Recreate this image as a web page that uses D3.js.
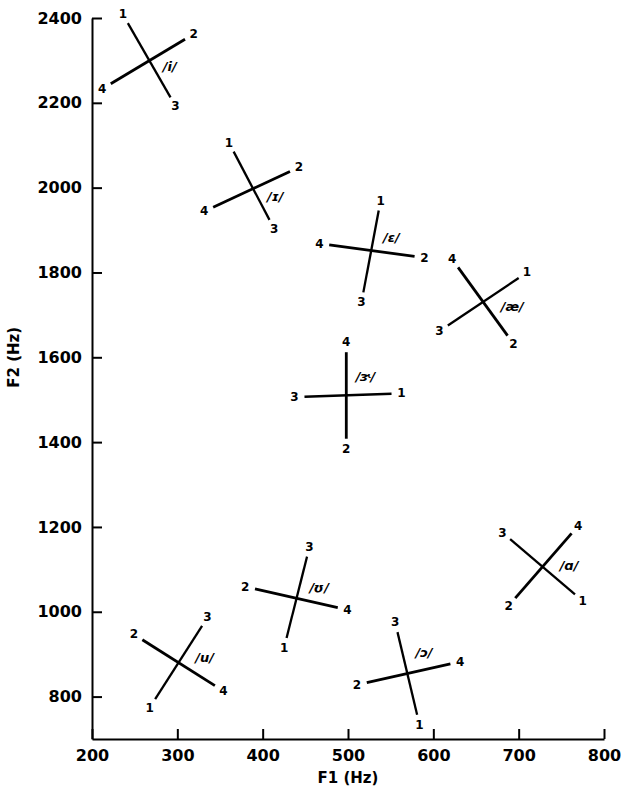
<!DOCTYPE html>
<html>
<head>
<meta charset="utf-8">
<script src="https://cdn.jsdelivr.net/npm/d3@7"></script>
<style>
  body { margin: 0; background: #fff; }
  text { font-family: "DejaVu Sans", sans-serif; font-weight: bold; fill: #000; }
</style>
</head>
<body>
<div id="graphArea"></div>
<script>
// vowel symbols
var vowels = ["i", "ɪ", "ɛ", "æ", "ɝ", "ʊ", "u", "ɔ", "ɑ"];

// F1 (Hz) of the four ends of each cross, in the order 1,2,3,4
var endF1 = [
  [242, 309, 292, 222],
  [366, 432, 408, 342],
  [536, 578, 518, 478],
  [700, 687, 617, 629],
  [551, 498, 449, 498],
  [428, 391, 452, 488],
  [274, 259, 329, 344],
  [581, 522, 558, 620],
  [766, 696, 690, 762]
];
// F2 (Hz) of the same ends
var endF2 = [
  [2388, 2350, 2213, 2245],
  [2085, 2038, 1924, 1954],
  [1946, 1838, 1753, 1865],
  [1787, 1651, 1675, 1812],
  [1514, 1408, 1507, 1612],
  [938, 1054, 1130, 1010],
  [794, 934, 967, 826],
  [757, 833, 952, 877],
  [1041, 1032, 1171, 1185]
];
// where each vowel's name sits (left edge), Hz
var nameF1 = [283, 405, 541, 679, 509, 455, 321, 579, 748];
var nameF2 = [2285, 1978, 1882, 1719, 1554, 1058, 893, 905, 1110];

var endNames = ["1", "2", "3", "4"];
var xTicks = [200, 300, 400, 500, 600, 700, 800];
var yTicks = [800, 1000, 1200, 1400, 1600, 1800, 2000, 2200, 2400];

var width = 635, height = 788;

var svg = d3.select("#graphArea").append("svg")
  .attr("width", width)
  .attr("height", height);

var x = d3.scaleLinear().domain([200, 800]).range([92, 604]);
var y = d3.scaleLinear().domain([700, 2400]).range([739, 18]);

// axes, ticks pointing inward
var xAxis = svg.append("g")
  .attr("transform", "translate(0," + y(700) + ")")
  .call(d3.axisBottom(x).tickValues(xTicks).tickFormat(d3.format("d"))
    .tickSizeInner(-10).tickSizeOuter(0).tickPadding(11));

var yAxis = svg.append("g")
  .attr("transform", "translate(" + x(200) + ",0)")
  .call(d3.axisLeft(y).tickValues(yTicks).tickFormat(d3.format("d"))
    .tickSizeInner(-10).tickSizeOuter(0).tickPadding(10));

[xAxis, yAxis].forEach(function (g) {
  g.select(".domain").attr("stroke", "#000").attr("stroke-width", 2);
  g.selectAll(".tick line").attr("stroke", "#000").attr("stroke-width", 2);
  g.selectAll(".tick text").style("font-size", "16px").attr("fill", "#000");
});

svg.append("text")
  .attr("x", (x(200) + x(800)) / 2)
  .attr("y", 778)
  .attr("text-anchor", "middle")
  .attr("dominant-baseline", "central")
  .style("font-size", "15px")
  .text("F1 (Hz)");

svg.append("text")
  .attr("transform", "translate(14," + y(1600) + ") rotate(-90)")
  .attr("text-anchor", "middle")
  .attr("dominant-baseline", "central")
  .style("font-size", "15px")
  .text("F2 (Hz)");

// crosses: line 1-3 and line 2-4
var crosses = svg.selectAll(".cross")
  .data(vowels)
  .enter()
  .append("g")
  .attr("class", "cross");

crosses.each(function (v, i) {
  var g = d3.select(this);
  var pts = endF1[i].map(function (f, k) { return [x(f), y(endF2[i][k])]; });

  [[0, 2, 2.3], [1, 3, 2.8]].forEach(function (pair) {
    g.append("line")
      .attr("x1", pts[pair[0]][0]).attr("y1", pts[pair[0]][1])
      .attr("x2", pts[pair[1]][0]).attr("y2", pts[pair[1]][1])
      .attr("stroke", "#000")
      .attr("stroke-width", pair[2]);
  });

  // numbers just past each end, along the line
  pts.forEach(function (p, k) {
    var q = pts[(k + 2) % 4];
    var dx = p[0] - q[0], dy = p[1] - q[1];
    var len = Math.sqrt(dx * dx + dy * dy);
    g.append("text")
      .attr("x", p[0] + dx / len * 10)
      .attr("y", p[1] + dy / len * 10)
      .attr("text-anchor", "middle")
      .attr("dominant-baseline", "central")
      .style("font-size", "12px")
      .text(endNames[k]);
  });

  g.append("text")
    .attr("x", x(nameF1[i]))
    .attr("y", y(nameF2[i]))
    .attr("dominant-baseline", "central")
    .style("font-size", "13px")
    .style("font-style", "italic")
    .text("/" + v + "/");
});
</script>
</body>
</html>
